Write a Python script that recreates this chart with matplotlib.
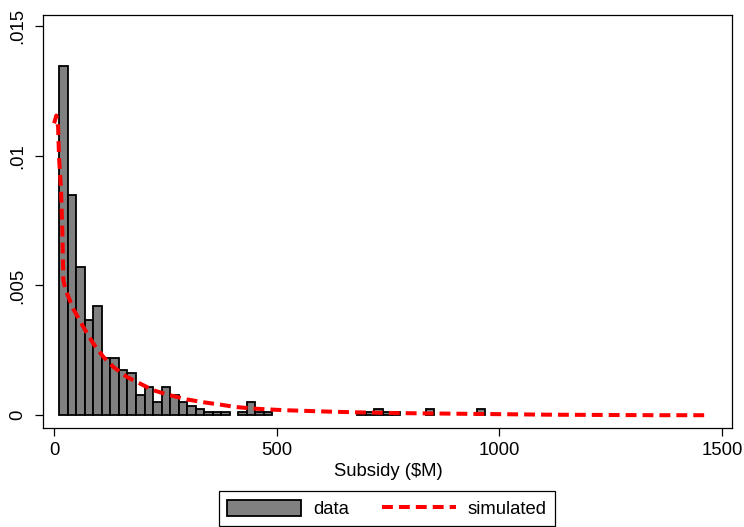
import numpy as np
import matplotlib
matplotlib.use("Agg")
from matplotlib import pyplot as plt
from matplotlib.patches import Patch
from matplotlib.lines import Line2D

plt.rcParams['font.family'] = ['Liberation Sans', 'DejaVu Sans']

# histogram of observed subsidies: bins start at bin_start, each bin_width wide
bin_start = 11.7
bin_width = 19.13
density = [0.01345, 0.00848, 0.00572, 0.00366, 0.00421, 0.00219, 0.00219, 0.00176,
           0.00161, 0.00078, 0.00107, 0.00051, 0.00107, 0.00078, 0.00051, 0.00036,
           0.00023, 0.00011, 0.00011, 0.00011, 0.0, 0.00011, 0.00051, 0.00011,
           0.00011, 0.0, 0.0, 0.0, 0.0, 0.0, 0.0, 0.0, 0.0, 0.0, 0.0,
           0.00011, 0.00011, 0.00023, 0.00011, 0.00011, 0.0, 0.0, 0.0,
           0.00023, 0.0, 0.0, 0.0, 0.0, 0.0, 0.00023]

# simulated subsidy density
sim_x = [0, 5, 9, 11, 15.5, 18.4, 20.7, 26, 43, 65.6, 88, 110.5, 133, 163, 193,
         222.8, 260, 297.8, 335, 372.6, 406, 443.7, 484.8, 522, 559.6, 593, 680,
         777, 890, 1001, 1110, 1226, 1350, 1468]
sim_y = [0.01125, 0.01155, 0.0111, 0.00996, 0.00868, 0.00713, 0.00521, 0.00482,
         0.0041, 0.0034, 0.00276, 0.00225, 0.00186, 0.00148, 0.00122, 0.00096,
         0.00077, 0.00061, 0.0005, 0.00041, 0.00032, 0.00026, 0.00022, 0.00019,
         0.00017, 0.00015, 0.00011, 0.00008, 0.00006, 0.00004, 0.00002, 0.00001,
         0.0, 0.0]

x_ticks = [0, 500, 1000, 1500]
y_ticks = [0, 0.005, 0.01, 0.015]
y_tick_labels = ["0", ".005", ".01", ".015"]

fs = 13.3
sim_lw = 2.9
sim_dash = [2.7, 1.5]

fig = plt.figure(figsize=(7.44, 5.27), dpi=100)
ax = fig.add_axes([0.0582, 0.1884, 0.9263, 0.7831])

density = np.array(density)
lefts = bin_start + bin_width * np.arange(len(density))
keep = density > 0
ax.bar(lefts[keep], density[keep], width=bin_width, align='edge',
       color='#808080', edgecolor='black', linewidth=1.3, zorder=2)

line, = ax.plot(sim_x, sim_y, color='red', linewidth=sim_lw, zorder=3)
line.set_dashes(sim_dash)

ax.set_xlim(-24.3, 1523.5)
ax.set_ylim(-0.000482, 0.015424)
ax.set_xticks(x_ticks)
ax.set_yticks(y_ticks)
ax.set_yticklabels(y_tick_labels, rotation=90, va='center')
ax.tick_params(axis='both', direction='out', length=5.5, width=0.9, labelsize=fs)
ax.tick_params(axis='y', pad=7)
ax.tick_params(axis='x', pad=4.5)
for sp in ax.spines.values():
    sp.set_linewidth(0.9)
ax.set_xlabel("Subsidy ($M)", fontsize=fs, labelpad=3)

handles = [Patch(facecolor='#808080', edgecolor='black', linewidth=1.3),
           Line2D([0], [0], color='red', linewidth=sim_lw, dashes=sim_dash)]
leg = fig.legend(handles, ["data", "simulated"], loc='center',
                 bbox_to_anchor=(0.520, 0.0345), bbox_transform=fig.transFigure,
                 ncol=2, fontsize=fs, frameon=True, fancybox=False,
                 edgecolor='black', framealpha=1, handlelength=4.0,
                 handleheight=1.0, handletextpad=0.65, columnspacing=1.8,
                 borderpad=0.45, borderaxespad=0)
leg.get_frame().set_linewidth(0.9)

fig.savefig("out.png", dpi=100)
